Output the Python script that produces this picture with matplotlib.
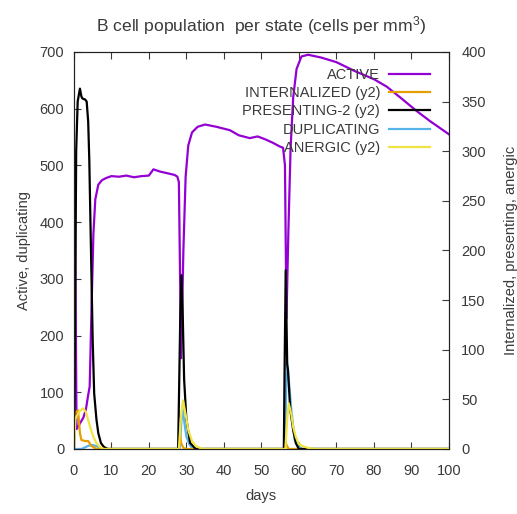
import matplotlib
matplotlib.use("Agg")
import matplotlib.pyplot as plt

plt.rcParams['font.family'] = ['Liberation Sans', 'DejaVu Sans']
plt.rcParams['mathtext.default'] = 'regular'
plt.rcParams['font.size'] = 10.5
txt_col = '#3a3a3a'

# values
active_days = [0, 0.3, 0.7, 1.6, 2.5, 3.2, 3.8, 4.2, 4.7, 5.2, 5.7, 6.5, 7.5, 8.7, 10, 12, 14, 16, 18, 20,
               21.2, 23, 25, 26.9, 27.6, 28.0, 28.6, 29.2, 29.8, 30.5, 31.5, 33, 35, 38, 41.6, 44, 46.9,
               49, 51, 53, 55, 55.8, 56.3, 56.7, 57.2, 57.8, 58.5, 59.4, 60.7, 62.5, 66, 70, 75, 80,
               83.4, 87, 91.4, 95, 100]
active = [0, 400, 35, 45, 55, 70, 95, 110, 250, 380, 440, 466, 474, 478, 481, 480, 482, 479, 481, 482,
          493, 489, 486, 483, 480, 470, 160, 350, 480, 535, 558, 568, 572, 568, 562, 553, 548,
          551, 546, 540, 533, 531, 500, 230, 380, 530, 620, 670, 692, 695, 690, 682, 666, 652,
          639, 620, 596, 578, 555]

internalized_days = [0, 0.3, 1.1, 1.6, 2.0, 3.0, 3.8, 4.7, 6.0, 27.9, 28.2, 28.6, 29.2, 30.0,
                     56.0, 56.3, 56.7, 57.3, 100]
internalized = [0, 36, 39, 16, 9, 8, 8, 3, 0, 0, 18, 6, 1, 0,
                0, 10, 4, 0, 0]

presenting_days = [0, 0.3, 0.6, 1.0, 1.6, 2.0, 2.3, 3.0, 3.4, 3.8, 4.1, 4.4, 4.7, 5.0, 5.4, 6.0, 6.5,
                   7.2, 8.0, 9.0, 27.8, 28.1, 28.4, 28.7, 29.0, 29.4, 30.0, 31.0, 32.5,
                   56.0, 56.2, 56.5, 56.9, 57.1, 57.7, 58.5, 59.2, 60.0, 100]
presenting = [0, 120, 300, 350, 363, 355, 353, 352, 350, 330, 291, 230, 170, 110, 56, 30, 16,
              6, 2, 0, 0, 70, 140, 175, 140, 70, 30, 6, 0,
              0, 80, 180, 85, 80, 40, 19, 6, 0, 0]

duplicating_days = [0, 2, 3, 4, 5, 6, 7, 8, 28.2, 28.6, 28.9, 29.4, 30.0, 30.8, 31.5, 32.5,
                    56.3, 56.6, 56.8, 57.1, 58.0, 58.9, 59.5, 60.2, 61, 100]
duplicating = [0, 0, 3, 6, 7, 5, 2, 0, 0, 40, 75, 50, 22, 8, 2, 0,
               0, 100, 155, 139, 69, 16, 8, 3, 0, 0]

anergic_days = [0, 0.4, 0.7, 1.5, 2.5, 3.2, 3.8, 4.5, 5.2, 6.0, 6.9, 8.0,
                28.0, 28.5, 29.1, 29.8, 30.5, 31.5, 32.5, 33.6, 34.5,
                56.4, 56.9, 57.3, 58.0, 58.5, 59.2, 60.0, 61.0, 62.5, 64.0, 100]
anergic = [0, 30, 33, 38, 41, 37, 29, 20, 12, 6, 2, 0,
           0, 30, 49, 35, 19, 8, 3, 1, 0,
           0, 30, 46, 35, 22, 12, 5, 3, 1, 0, 0]

fig = plt.figure(figsize=(5.17, 5.14), dpi=100)
ax = fig.add_axes([0.143, 0.1265, 0.725, 0.7725])
ax2 = ax.twinx()

lw = 1.6
l1, = ax.plot(active_days, active, color='#9400D3', lw=lw, label='ACTIVE')
l2, = ax2.plot(internalized_days, internalized, color='#E69F00', lw=lw, label='INTERNALIZED (y2)')
l3, = ax2.plot(presenting_days, presenting, color='black', lw=lw, label='PRESENTING-2 (y2)')
l4, = ax.plot(duplicating_days, duplicating, color='#56B4E9', lw=lw, label='DUPLICATING')
l5, = ax2.plot(anergic_days, anergic, color='#F0E442', lw=lw, label='ANERGIC (y2)')

ax.set_xlim(0, 100)
ax.set_ylim(0, 700)
ax2.set_ylim(0, 400)
ax.set_xticks(range(0, 101, 10))
ax.set_yticks(range(0, 701, 100))
ax2.set_yticks(range(0, 401, 50))

ax.tick_params(axis='x', direction='in', length=5, top=True, pad=11, colors=txt_col)
ax.tick_params(axis='y', direction='in', length=5, pad=7, colors=txt_col)
ax2.tick_params(axis='y', direction='in', length=5, pad=9, colors=txt_col)
for a in (ax, ax2):
    for s in a.spines.values():
        s.set_color('#222222')

ax.set_xlabel('days', color=txt_col, labelpad=8)
ax.set_ylabel('Active, duplicating', color=txt_col, labelpad=6)
ax2.set_ylabel('Internalized, presenting, anergic', color=txt_col, labelpad=13)
ax.set_title('B cell population  per state (cells per mm$^3$)', color=txt_col, pad=15)

ax2.legend(handles=[l1, l2, l3, l4, l5], loc='upper right', bbox_to_anchor=(0.965, 0.975),
           frameon=False, markerfirst=False, handlelength=2.8, handletextpad=0.6,
           labelspacing=0.3, borderaxespad=0, labelcolor=txt_col)

fig.savefig('out.png', dpi=100)
